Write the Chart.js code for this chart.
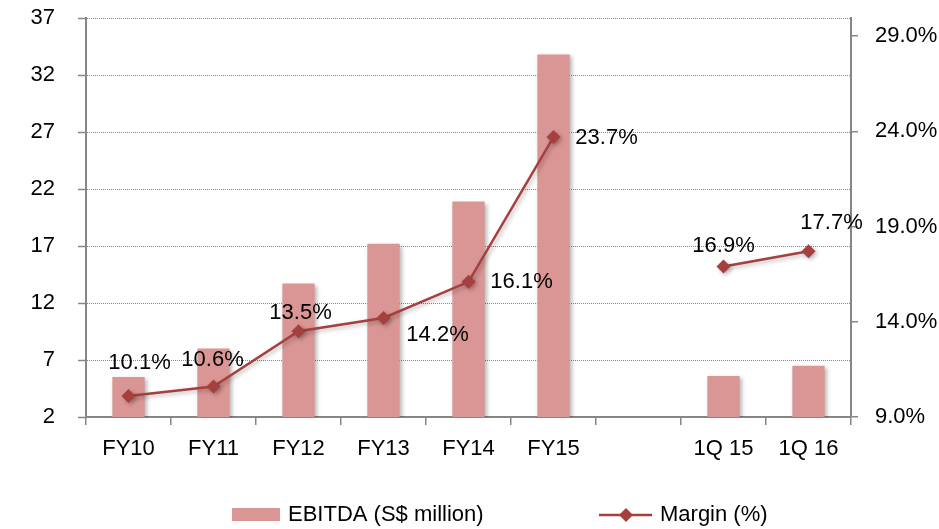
<!DOCTYPE html>
<html>
<head>
<meta charset="utf-8">
<script src="https://cdn.jsdelivr.net/npm/chart.js@4/dist/chart.umd.min.js"></script>
<style>
html,body{margin:0;padding:0;background:#fff;}
#wrap{width:939px;height:529px;}
</style>
</head>
<body>
<div id="wrap"><canvas id="c" width="939" height="529"></canvas></div>
<script>
// ---- data ----
const categories = ['FY10','FY11','FY12','FY13','FY14','FY15','','1Q 15','1Q 16'];
const ebitda = [5.5, 8.0, 13.7, 17.2, 20.9, 33.8, null, 5.6, 6.5];
const margin = [10.1, 10.6, 13.5, 14.2, 16.1, 23.7, null, 16.9, 17.7];
const leftTicks = [2, 7, 12, 17, 22, 27, 32, 37];
const rightTicks = [9, 14, 19, 24, 29];
const seriesNames = ['EBITDA (S$ million)', 'Margin (%)'];

// label placement offsets (px) for margin data labels
const labelOffsets = [[11,-33],[-1,-27],[2,-18],[54,17],[53,0],[53,1],[0,0],[0,-21],[23,-28]];

// ---- font selection: prefer a narrow face if installed ----
function hasFont(name) {
  const c = document.createElement('canvas').getContext('2d');
  const s = 'FY10 abcdefghijklmWW 29.0%';
  c.font = '25px monospace';
  const w1 = c.measureText(s).width;
  c.font = '25px "' + name + '", monospace';
  const w2 = c.measureText(s).width;
  return Math.abs(w1 - w2) > 0.5;
}
let FONT, FS;
if (hasFont('Liberation Sans Narrow')) { FONT = "'Liberation Sans Narrow', sans-serif"; FS = 25; }
else if (hasFont('Arial Narrow')) { FONT = "'Arial Narrow', sans-serif"; FS = 25; }
else { FONT = "'Liberation Sans', Arial, sans-serif"; FS = 22; }

const BAR = '#d99694';
const LINE = '#a5403f';
const AXIS = '#868686';

const shadowPlugin = {
  id: 'shadow',
  beforeDatasetDraw(chart, args) {
    const ctx = chart.ctx;
    ctx.save();
    ctx.shadowColor = 'rgba(0,0,0,0.28)';
    ctx.shadowBlur = 4;
    ctx.shadowOffsetX = 2;
    ctx.shadowOffsetY = 2;
  },
  afterDatasetDraw(chart) { chart.ctx.restore(); }
};

const labelPlugin = {
  id: 'mlabels',
  afterDatasetsDraw(chart) {
    const ctx = chart.ctx;
    const meta = chart.getDatasetMeta(1);
    ctx.save();
    ctx.font = FS + 'px ' + FONT;
    ctx.fillStyle = '#000';
    ctx.textAlign = 'center';
    ctx.textBaseline = 'middle';
    meta.data.forEach((pt, i) => {
      const v = margin[i];
      if (v === null || v === undefined) return;
      const o = labelOffsets[i];
      ctx.fillText(v.toFixed(1) + '%', pt.x + o[0], pt.y + o[1]);
    });
    ctx.restore();
  }
};

const legendPlugin = {
  id: 'customLegend',
  afterDraw(chart) {
    const ctx = chart.ctx;
    const y = 515;
    ctx.save();
    ctx.fillStyle = BAR;
    ctx.fillRect(232, 508, 48, 13);
    ctx.font = FS + 'px ' + FONT;
    ctx.fillStyle = '#000';
    ctx.textAlign = 'left';
    ctx.textBaseline = 'middle';
    ctx.fillText(seriesNames[0], 288, y);
    ctx.strokeStyle = LINE;
    ctx.lineWidth = 2.5;
    ctx.beginPath();
    ctx.moveTo(599, y); ctx.lineTo(652, y); ctx.stroke();
    ctx.fillStyle = LINE;
    ctx.beginPath();
    ctx.moveTo(626-7, y); ctx.lineTo(626, y-7); ctx.lineTo(626+7, y); ctx.lineTo(626, y+7); ctx.closePath();
    ctx.fill();
    ctx.fillStyle = '#000';
    ctx.fillText(seriesNames[1], 660, y);
    ctx.restore();
  }
};

new Chart(document.getElementById('c'), {
  data: {
    labels: categories,
    datasets: [
      {
        type: 'bar',
        label: seriesNames[0],
        data: ebitda,
        backgroundColor: BAR,
        borderWidth: 0,
        yAxisID: 'y',
        barPercentage: 0.38,
        categoryPercentage: 1.0,
        order: 2
      },
      {
        type: 'line',
        label: seriesNames[1],
        data: margin,
        borderColor: LINE,
        backgroundColor: LINE,
        borderWidth: 2.5,
        pointStyle: 'rectRot',
        pointRadius: 7,
        pointHoverRadius: 7,
        pointBorderWidth: 0,
        spanGaps: false,
        tension: 0,
        yAxisID: 'y1',
        order: 1
      }
    ]
  },
  options: {
    responsive: false,
    animation: false,
    devicePixelRatio: 1,
    layout: { padding: { top: 18, left: 0, right: 0, bottom: 0 } },
    plugins: { legend: { display: false }, tooltip: { enabled: false } },
    scales: {
      x: {
        offset: true,
        grid: { offset: true, drawOnChartArea: false, drawTicks: true, tickLength: 8, color: AXIS, lineWidth: 1.5 },
        border: { color: AXIS, width: 2 },
        ticks: { color: '#000', font: { family: FONT, size: FS }, padding: 11, maxRotation: 0, autoSkip: false },
        afterFit(s) { s.height = 112; s.paddingLeft = 0; s.paddingRight = 0; }
      },
      y: {
        position: 'left',
        min: 2, max: 37,
        afterBuildTicks(s) { s.ticks = leftTicks.map(v => ({ value: v })); },
        grid: { color: AXIS, lineWidth: 1, tickLength: 8, tickColor: AXIS, tickWidth: 1.5, tickBorderDash: [] },
        border: { color: AXIS, width: 2, dash: [1, 1] },
        ticks: { color: '#000', font: { family: FONT, size: FS }, padding: 23 },
        afterFit(s) { s.width = 86; s.paddingTop = 0; s.paddingBottom = 0; }
      },
      y1: {
        position: 'right',
        min: 9, max: 29.95,
        afterBuildTicks(s) { s.ticks = rightTicks.map(v => ({ value: v })); },
        grid: { drawOnChartArea: false, tickLength: 7, color: AXIS, lineWidth: 1.5 },
        border: { color: AXIS, width: 2 },
        ticks: { color: '#000', font: { family: FONT, size: FS }, padding: 17, callback: v => v.toFixed(1) + '%' },
        afterFit(s) { s.width = 88; s.paddingTop = 0; s.paddingBottom = 0; }
      }
    }
  },
  plugins: [shadowPlugin, labelPlugin, legendPlugin]
});
</script>
</body>
</html>
